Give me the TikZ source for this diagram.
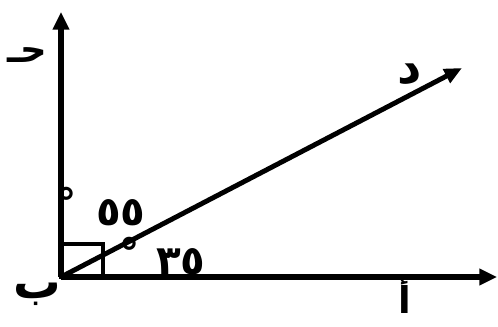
\documentclass[tikz,border=0pt]{standalone}
\usepackage{fontspec}
\usetikzlibrary{arrows.meta,positioning}
\TeXXeTstate=1
\newfontfamily\arabicfont[Script=Arabic]{DejaVu Sans}

\begin{document}
\begin{tikzpicture}[
  x=0.02cm,y=-0.02cm,
  axis/.style={line width=3.4pt,-{Triangle[length=10pt,width=9pt]}},
  ray/.style={line width=2.8pt,-{Triangle[length=10pt,width=8.5pt]}},
  lbl/.style={font=\arabicfont\bfseries\fontsize{27}{30}\selectfont,inner sep=0pt},
  ang/.style={font=\arabicfont\bfseries\fontsize{23}{26}\selectfont,inner sep=0pt}
]
  \useasboundingbox (0,0) rectangle (498,327);

  % points
  \coordinate (b) at (61,277);
  \coordinate (a) at (497,277);
  \coordinate (h) at (61,12);
  \coordinate (d) at (462,68);

  % axes and ray
  \draw[axis] (b) -- (a);
  \draw[axis] (b) -- (h);
  \draw[ray] (b) -- (d);

  % right angle mark
  \draw[line width=1.9pt] (b) rectangle ++(42,-33);

  % letters
  \node[lbl,font=\arabicfont\bfseries\fontsize{21}{24}\selectfont] (lh) at (27,55) {\beginR حـ\endR};
  \node[lbl] (ld) at (410,74) {\beginR د\endR};
  \node[lbl] (lb) at (37,294) {\beginR ب\endR};
  \node[lbl,font=\arabicfont\bfseries\fontsize{21}{24}\selectfont,anchor=base] (la) at (405,314) {\beginR أ\endR};

  % angles
  \node[ang] (deg1) at (67,202) {°};
  \node[ang] (a55) at (121,213) {\beginR ٥٥\endR};
  \node[ang] (deg2) at (130,252) {°};
  \node[ang] (a35) at (181,262) {\beginR ٣٥\endR};
\end{tikzpicture}
\end{document}
